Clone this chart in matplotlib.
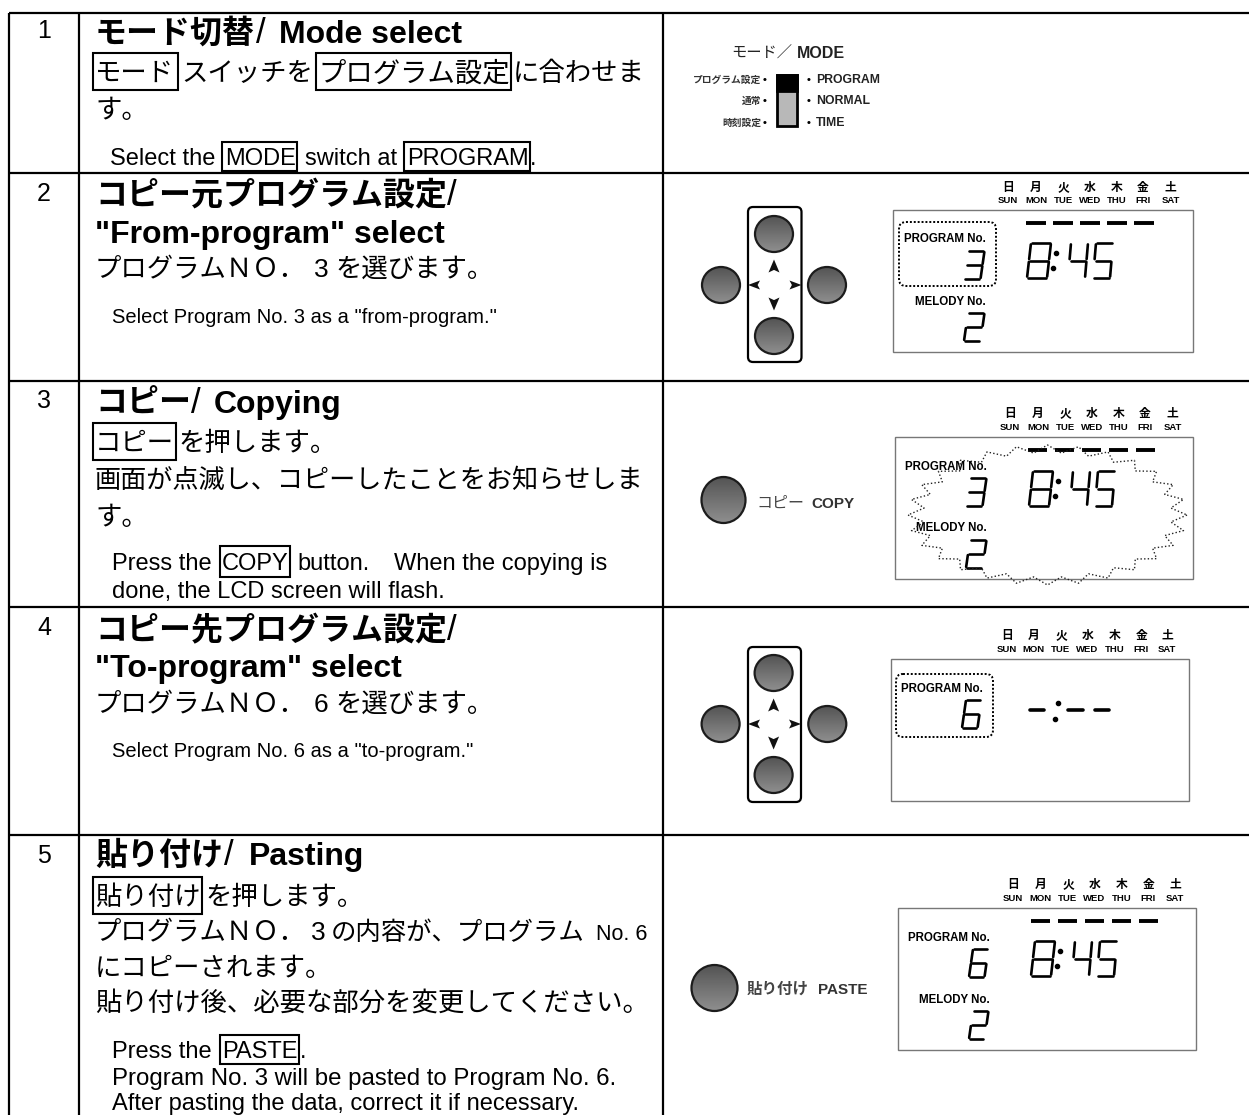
"""
Recreates the program-copy instruction table (Japanese / English) with matplotlib
Everything is drawn in one axes that uses image pixels as coordinates
"""

import numpy as np
import matplotlib
matplotlib.use('Agg')
import matplotlib.pyplot as plt
from matplotlib.patches import Ellipse, Rectangle, FancyBboxPatch, Polygon

FAMILY = ['Liberation Sans', 'Noto Sans CJK JP', 'DejaVu Sans']

# Text of the table
ROW_NUMBERS = ['1', '2', '3', '4', '5']
HEADINGS_JA = ['モード切替', 'コピー元プログラム設定', 'コピー', 'コピー先プログラム設定', '貼り付け']
HEADINGS_EN = ['Mode select', '"From-program" select', 'Copying', '"To-program" select', 'Pasting']
DAY_KANJI = ['日', '月', '火', '水', '木', '金', '土']
DAY_NAMES = ['SUN', 'MON', 'TUE', 'WED', 'THU', 'FRI', 'SAT']
MODE_JA = ['プログラム設定', '通常', '時刻設定']
MODE_EN = ['PROGRAM', 'NORMAL', 'TIME']

# LCD readouts
LCD_PROGRAM = ['3', '3', '6', '6']
LCD_MELODY = ['2', '2', None, '2']
LCD_TIME = ['8:45', '8:45', '-:--', '8:45']

# Table grid lines
ROW_LINES = [13, 173, 381, 607, 835]
COL_LINES = [9, 79, 663]
NUM_BASELINES = [38, 201, 408, 635, 863]
HEAD_JA_BASELINES = [43, 205, 413, 640, 865]
HEAD_SLASH_X = [256, 447, 191, 447, 224]
HEAD_EN_X = [279, 95, 214, 95, 249]
HEAD_EN_BASELINES = [43, 243, 413, 677, 865]

# seven segment layout, a-g clockwise from the top, g is the middle bar
SEGMENTS = {
    'a': ((0, 0), (1, 0)), 'b': ((1, 0), (1, .5)), 'c': ((1, .5), (1, 1)),
    'd': ((0, 1), (1, 1)), 'e': ((0, .5), (0, 1)), 'f': ((0, 0), (0, .5)),
    'g': ((0, .5), (1, .5)),
}
DIGITS = {'2': 'abged', '3': 'abgcd', '4': 'fgbc', '5': 'afgcd', '6': 'afgedc', '8': 'abcdefg'}

fig = plt.figure(figsize=(12.49, 11.15), dpi=100)
ax = fig.add_axes([0, 0, 1, 1])
ax.set_xlim(0, 1249)
ax.set_ylim(1115, 0)
ax.axis('off')


def put(x, y, s, size=19, weight='normal', ha='left', color='black'):
    ax.text(x, y, s, fontsize=size, fontweight=weight, ha=ha, va='baseline',
            family=FAMILY, color=color)


def box(x0, y0, x1, y1):
    ax.add_patch(Rectangle((x0, y0), x1 - x0, y1 - y0, fill=False, ec='black', lw=1.5))


def button(cx, cy, rx, ry):
    # Vertical grey gradient clipped to the button outline
    grad = np.linspace(0.33, 0.56, 64).reshape(-1, 1)
    im = ax.imshow(grad, cmap='gray', vmin=0, vmax=1, aspect='auto',
                   extent=(cx - rx, cx + rx, cy + ry, cy - ry), zorder=2)
    outline = Ellipse((cx, cy), 2 * rx, 2 * ry, fc='none', ec='#1c1c1c', lw=1.6, zorder=3)
    ax.add_patch(outline)
    im.set_clip_path(outline)


def arrow(cx, cy, dx, dy, length=13, half=5.5):
    # Notched arrow head pointing along (dx, dy)
    px, py = -dy, dx
    tip = (cx + dx * length / 2, cy + dy * length / 2)
    back = cx - dx * length / 2, cy - dy * length / 2
    notch = (cx - dx * length * 0.3, cy - dy * length * 0.3)
    ax.add_patch(Polygon([tip, (back[0] + px * half, back[1] + py * half), notch,
                          (back[0] - px * half, back[1] - py * half)],
                         closed=True, fc='#111111', ec='none'))


def dpad(x0, y0, x1, y1, cx, left_x, right_x, top_y, mid_y, bot_y):
    ax.add_patch(FancyBboxPatch((x0 + 4, y0 + 4), x1 - x0 - 8, y1 - y0 - 8,
                                boxstyle='round,pad=4,rounding_size=5',
                                fc='white', ec='black', lw=1.6, mutation_aspect=1))
    button(cx, top_y, 19, 18)
    button(cx, bot_y, 19, 18)
    button(left_x, mid_y, 19, 18)
    button(right_x, mid_y, 19, 18)
    arrow(cx, mid_y - 19, 0, -1)
    arrow(cx, mid_y + 19, 0, 1)
    arrow(x0 + 6, mid_y, -1, 0, length=12, half=4.5)
    arrow(x1 - 6, mid_y, 1, 0, length=12, half=4.5)


def seven_seg(x, y, w, h, char, skew=4.0, lw=1.9):
    # x, y is the lower-left of the glyph box before skewing, y grows down
    top = y - h
    for name in DIGITS[char]:
        (u0, v0), (u1, v1) = SEGMENTS[name]
        # leave a small gap at the joints, like an LCD
        gx = 0.07 if u0 != u1 else 0.0
        gy = 0.04 if v0 != v1 else 0.0
        xs = [x + (u0 + gx) * w + (1 - v0 - gy) * skew, x + (u1 - gx) * w + (1 - v1 + gy) * skew]
        ys = [top + (v0 + gy) * h, top + (v1 - gy) * h]
        ax.plot(xs, ys, color='black', lw=lw, solid_capstyle='round')


def days(xs, y_kanji, y_name):
    for x, kanji, name in zip(xs, DAY_KANJI, DAY_NAMES):
        put(x, y_kanji, kanji, size=8.5, weight='bold', ha='center')
        put(x, y_name, name, size=6.8, weight='bold', ha='center')


def lcd(x0, y0, x1, y1):
    ax.add_patch(Rectangle((x0, y0), x1 - x0, y1 - y0, fc='white', ec='#777777', lw=1))


def week_bars(x0, y):
    for i in range(5):
        ax.plot([x0 + i * 27, x0 + i * 27 + 19.5], [y, y], color='black', lw=2.8,
                solid_capstyle='butt')


def time_readout(x, base, value, h=35):
    hour, minute = value.split(':')
    seven_seg(x, base, 20, h, hour)
    ax.plot([x + 29, x + 26], [base - h * 0.72, base - h * 0.28], ls='none', marker='o',
            ms=3, color='black')
    seven_seg(x + 41, base, 17, h, minute[0], skew=3)
    seven_seg(x + 66, base, 17, h, minute[1], skew=3)


def program_dots(x0, y0, x1, y1):
    ax.add_patch(FancyBboxPatch((x0 + 6, y0 + 6), x1 - x0 - 12, y1 - y0 - 12,
                                boxstyle='round,pad=6,rounding_size=7', fc='none',
                                ec='black', lw=1.4, ls=(0, (1, 1))))


# ---- grid ----
for y in ROW_LINES:
    ax.plot([9, 1249], [y, y], color='black', lw=1.6, solid_capstyle='butt')
for x in COL_LINES:
    ax.plot([x, x], [13, 1115], color='black', lw=1.6, solid_capstyle='butt')

# ---- row numbers and headings ----
for num, y in zip(ROW_NUMBERS, NUM_BASELINES):
    put(44, y, num, size=18, ha='center')
for i in range(5):
    put(95, HEAD_JA_BASELINES[i], HEADINGS_JA[i], size=23, weight='bold')
    put(HEAD_SLASH_X[i], HEAD_JA_BASELINES[i], '/', size=25)
    put(HEAD_EN_X[i], HEAD_EN_BASELINES[i], HEADINGS_EN[i], size=23, weight='bold')

# ---- row 1 text ----
box(93.5, 53, 178, 90)
box(316.5, 53, 511, 90)
put(95, 81, 'モード')
put(181, 81, 'スイッチを')
put(318, 81, 'プログラム設定', size=19.7)
put(513, 81, 'に合わせま')
put(95, 118, 'す。')
box(222.5, 142, 297, 171)
box(404.5, 142, 530, 171)
put(110, 165, 'Select the', size=17)
put(225, 165, 'MODE', size=17)
put(305, 165, 'switch at', size=17)
put(407, 165, 'PROGRAM', size=17)
put(530, 165, '.', size=17)

# ---- row 2 text ----
put(95, 277, 'プログラムＮＯ．')
put(314, 277, '3')
put(335, 277, 'を選びます。')
put(112, 323, 'Select Program No. 3 as a "from-program."', size=14.5)

# ---- row 3 text ----
box(93.5, 423, 176.5, 460)
put(95, 451, 'コピー')
put(178, 451, 'を押します。')
put(95, 488, '画面が点滅し、コピーしたことをお知らせしま', size=18.85)
put(95, 525, 'す。')
box(220, 546, 290, 577)
put(112, 570, 'Press the', size=17)
put(222, 570, 'COPY', size=17)
put(297, 570, 'button.', size=17)
put(394, 570, 'When the copying is', size=17)
put(112, 598, 'done, the LCD screen will flash.', size=17)

# ---- row 4 text ----
put(95, 712, 'プログラムＮＯ．')
put(314, 712, '6')
put(335, 712, 'を選びます。')
put(112, 757, 'Select Program No. 6 as a "to-program."', size=14.5)

# ---- row 5 text ----
box(93.5, 877, 202, 914)
put(95, 905, '貼り付け')
put(205, 905, 'を押します。')
put(95, 940, 'プログラムＮＯ．')
put(311, 940, '3')
put(331, 940, 'の内容が、プログラム', size=18.3)
put(596, 940, 'No. 6', size=15.5)
put(95, 976, 'にコピーされます。')
put(95, 1011, '貼り付け後、必要な部分を変更してください。')
box(220, 1035, 299, 1064)
put(112, 1058, 'Press the', size=17)
put(222, 1058, 'PASTE', size=17)
put(300, 1058, '.', size=17)
put(112, 1085, 'Program No. 3 will be pasted to Program No. 6.', size=17.3)
put(112, 1110, 'After pasting the data, correct it if necessary.', size=17)

# ---- row 1 panel: mode switch ----
put(731, 58, 'モード／', size=11, color='#222222')
put(797, 58, 'MODE', size=11.5, weight='bold', color='#222222')
for text, y in zip(MODE_JA, [83, 104, 126]):
    put(761, y, text, size=7, weight='bold', ha='right', color='#333333')
    put(767, y, '•', size=8, weight='bold', ha='right')
for text, y in zip(MODE_EN, [83, 104, 126]):
    put(807, y, '•', size=8, weight='bold')
    put(816, y, text, size=8.8, weight='bold', color='#222222')
ax.add_patch(Rectangle((777, 75), 20.5, 51, fc='#b8b8b8', ec='black', lw=2))
ax.add_patch(Rectangle((777, 75), 20.5, 16, fc='black', ec='black', lw=2))

# ---- row 2 panel ----
dpad(748, 207, 801.5, 362, 774, 721, 827, 234, 285, 336)
days([1008, 1036, 1063.5, 1090, 1117, 1143, 1170.5], 191, 203)
lcd(893, 210, 1193, 352)
week_bars(1026.5, 223)
program_dots(899, 222, 996, 286)
put(985.5, 242, 'PROGRAM No.', size=8.3, weight='bold', ha='right')
seven_seg(964, 279, 16.5, 28, LCD_PROGRAM[0])
time_readout(1027, 278, LCD_TIME[0])
put(985.5, 305, 'MELODY No.', size=8.3, weight='bold', ha='right')
seven_seg(964, 341, 16.5, 28, LCD_MELODY[0])

# ---- row 3 panel ----
button(723.5, 500, 22, 23)
put(756, 508, 'コピー', size=11.5, color='#444444')
put(811, 508, 'COPY', size=11, weight='bold', color='#333333')
days([1010, 1038, 1065.5, 1092, 1119, 1145, 1172.5], 417, 430)
lcd(895, 436.5, 1193.5, 579)
week_bars(1028, 450)
put(986.5, 470, 'PROGRAM No.', size=8.3, weight='bold', ha='right')
seven_seg(966, 506, 16.5, 28, LCD_PROGRAM[1])
time_readout(1029, 506, LCD_TIME[1])
put(987, 531, 'MELODY No.', size=8.3, weight='bold', ha='right')
seven_seg(966, 568, 16.5, 28, LCD_MELODY[1])
# flash marks around the screen
angles = np.linspace(0, 2 * np.pi, 57)
radius = np.where(np.arange(57) % 2 == 0, 1.0, 0.89)
ax.plot(1047.5 + 139.5 * radius * np.cos(angles), 515 + 70 * radius * np.sin(angles),
        color='#222222', lw=1.0, ls=(0, (1, 1.6)), zorder=4)

# ---- row 4 panel ----
dpad(748, 647, 801, 802, 773.6, 720.6, 827.3, 673, 724, 775)
days([1006.6, 1033.8, 1061, 1087.5, 1114.3, 1141.5, 1167.3], 639, 652)
lcd(891.5, 658.5, 1189, 801)
program_dots(896, 674, 993, 737)
put(983, 692, 'PROGRAM No.', size=8.3, weight='bold', ha='right')
seven_seg(962, 728, 15.5, 28, LCD_PROGRAM[2])
ax.plot([1030, 1044.5], [710, 710], color='black', lw=2.6, solid_capstyle='round')
ax.plot([1068, 1083.5], [710, 710], color='black', lw=2.6, solid_capstyle='round')
ax.plot([1095, 1109], [710, 710], color='black', lw=2.6, solid_capstyle='round')
ax.plot([1057.7, 1054.8], [703, 719], ls='none', marker='o', ms=3, color='black')

# ---- row 5 panel ----
button(714.5, 988, 23, 23)
put(747, 994, '貼り付け', size=11.2, weight='bold', color='#444444')
put(818.5, 994, 'PASTE', size=11, weight='bold', color='#333333')
days([1013, 1040.7, 1068, 1094.5, 1121.3, 1148.5, 1175], 888, 901)
lcd(898.5, 907.5, 1196, 1050)
week_bars(1031, 921)
put(990, 941, 'PROGRAM No.', size=8.3, weight='bold', ha='right')
seven_seg(969, 977, 15.5, 28, LCD_PROGRAM[3])
time_readout(1031, 976, LCD_TIME[3])
put(990, 1003, 'MELODY No.', size=8.3, weight='bold', ha='right')
seven_seg(969, 1039, 15.5, 28, LCD_MELODY[3])

ax.set_xlim(0, 1249)
ax.set_ylim(1115, 0)
fig.savefig('out.png', dpi=100, facecolor='white')
plt.close(fig)
